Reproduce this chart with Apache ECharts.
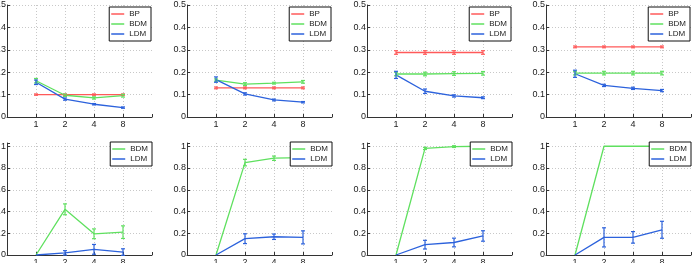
<!DOCTYPE html>
<html>
<head>
<meta charset="utf-8">
<script src="https://cdn.jsdelivr.net/npm/echarts@6/dist/echarts.min.js"></script>
<style>
html,body{margin:0;padding:0;background:#fff;}
#c{width:695px;height:263px;}
</style>
</head>
<body>
<div id="c"></div>
<script>
// ---- data ----
const xCats = ['1', '2', '4', '8'];
const topNames = ['BP', 'BDM', 'LDM'];
const bottomNames = ['BDM', 'LDM'];
const topTicks = [0, 0.1, 0.2, 0.3, 0.4, 0.5];
const bottomTicks = [0, 0.2, 0.4, 0.6, 0.8, 1];

// top row panels (values and half error bars)
const p1BP = [0.1, 0.1, 0.1, 0.1];        const p1BPe = [0.003, 0.003, 0.003, 0.003];
const p1BDM = [0.162, 0.097, 0.085, 0.095]; const p1BDMe = [0.01, 0.005, 0.005, 0.006];
const p1LDM = [0.155, 0.08, 0.057, 0.042];  const p1LDMe = [0.01, 0.005, 0.003, 0.003];

const p2BP = [0.13, 0.13, 0.13, 0.13];      const p2BPe = [0.004, 0.004, 0.004, 0.004];
const p2BDM = [0.165, 0.147, 0.151, 0.157]; const p2BDMe = [0.005, 0.006, 0.004, 0.006];
const p2LDM = [0.167, 0.103, 0.076, 0.066]; const p2LDMe = [0.012, 0.005, 0.004, 0.003];

const p3BP = [0.288, 0.288, 0.288, 0.288];  const p3BPe = [0.008, 0.008, 0.008, 0.008];
const p3BDM = [0.192, 0.192, 0.194, 0.195]; const p3BDMe = [0.008, 0.008, 0.008, 0.008];
const p3LDM = [0.188, 0.115, 0.094, 0.086]; const p3LDMe = [0.016, 0.01, 0.005, 0.004];

const p4BP = [0.313, 0.313, 0.313, 0.313];  const p4BPe = [0.004, 0.004, 0.004, 0.004];
const p4BDM = [0.196, 0.196, 0.196, 0.196]; const p4BDMe = [0.008, 0.008, 0.008, 0.008];
const p4LDM = [0.193, 0.141, 0.128, 0.118]; const p4LDMe = [0.016, 0.005, 0.005, 0.005];

// bottom row panels
const p5BDM = [0, 0.42, 0.195, 0.21];    const p5BDMe = [0, 0.05, 0.045, 0.058];
const p5LDM = [0, 0.02, 0.052, 0.027];   const p5LDMe = [0, 0.02, 0.045, 0.03];

const p6BDM = [0, 0.85, 0.89, 0.895];    const p6BDMe = [0, 0.03, 0.02, 0.02];
const p6LDM = [0, 0.15, 0.168, 0.162];   const p6LDMe = [0, 0.045, 0.025, 0.06];

const p7BDM = [0, 0.98, 0.997, 1.0];     const p7BDMe = [0, 0.01, 0.008, 0];
const p7LDM = [0, 0.095, 0.115, 0.175];  const p7LDMe = [0, 0.04, 0.04, 0.048];

const p8BDM = [0, 1, 1, 1];              const p8BDMe = [0, 0, 0, 0];
const p8LDM = [0, 0.162, 0.162, 0.232];  const p8LDMe = [0, 0.088, 0.053, 0.078];

const colors = { BP: '#ff5a5a', BDM: '#5fe05f', LDM: '#2c62dc' };

// ---- layout ----
const W = 695;
const gridLefts = [7, 187, 367, 546];
const gridW = 145;
const rowTop = [5, 143];
const rowH = [112, 112];
const font = "'Liberation Sans', Arial, sans-serif";

const panels = [
  { row: 0, names: topNames, vals: { BP: p1BP, BDM: p1BDM, LDM: p1LDM }, errs: { BP: p1BPe, BDM: p1BDMe, LDM: p1LDMe } },
  { row: 0, names: topNames, vals: { BP: p2BP, BDM: p2BDM, LDM: p2LDM }, errs: { BP: p2BPe, BDM: p2BDMe, LDM: p2LDMe } },
  { row: 0, names: topNames, vals: { BP: p3BP, BDM: p3BDM, LDM: p3LDM }, errs: { BP: p3BPe, BDM: p3BDMe, LDM: p3LDMe } },
  { row: 0, names: topNames, vals: { BP: p4BP, BDM: p4BDM, LDM: p4LDM }, errs: { BP: p4BPe, BDM: p4BDMe, LDM: p4LDMe } },
  { row: 1, names: bottomNames, vals: { BDM: p5BDM, LDM: p5LDM }, errs: { BDM: p5BDMe, LDM: p5LDMe } },
  { row: 1, names: bottomNames, vals: { BDM: p6BDM, LDM: p6LDM }, errs: { BDM: p6BDMe, LDM: p6LDMe } },
  { row: 1, names: bottomNames, vals: { BDM: p7BDM, LDM: p7LDM }, errs: { BDM: p7BDMe, LDM: p7LDMe } },
  { row: 1, names: bottomNames, vals: { BDM: p8BDM, LDM: p8LDM }, errs: { BDM: p8BDMe, LDM: p8LDMe } }
];

const grids = [], xAxes = [], yAxes = [], series = [], legends = [];
const axisCol = '#333';
const gridCol = '#c8c8c8';

panels.forEach((p, k) => {
  const col = k % 4;
  const left = gridLefts[col];
  const ticks = p.row === 0 ? topTicks : bottomTicks;
  const yMax = p.row === 0 ? 0.5 : 1.03;
  grids.push({ left: left, top: rowTop[p.row], width: gridW, height: rowH[p.row], containLabel: false, outerBoundsMode: 'none' });
  xAxes.push({
    type: 'value', gridIndex: k, min: 0, max: xCats.length + 1, interval: 1,
    axisLine: { show: true, lineStyle: { color: axisCol, width: 1 } },
    axisTick: { show: true, inside: true, length: 3, lineStyle: { color: axisCol } },
    axisLabel: {
      show: true, margin: 3, fontSize: 9, fontFamily: font, color: '#222',
      formatter: v => (v >= 1 && v <= xCats.length) ? xCats[v - 1] : ''
    },
    splitLine: { show: true, showMinLine: false, showMaxLine: false, lineStyle: { color: gridCol, type: [1, 2], width: 1 } }
  });
  yAxes.push({
    type: 'value', gridIndex: k, min: 0, max: yMax, interval: ticks[1] - ticks[0],
    axisLine: { show: true, lineStyle: { color: axisCol, width: 1 } },
    axisTick: { show: true, inside: true, length: 3, lineStyle: { color: axisCol } },
    axisLabel: {
      show: true, margin: 1, fontSize: 9, fontFamily: font, color: '#222',
      formatter: v => {
        const hit = ticks.find(t => Math.abs(t - v) < 1e-6);
        return hit === undefined ? '' : String(hit);
      }
    },
    splitLine: { show: true, showMinLine: false, showMaxLine: p.row === 0, lineStyle: { color: gridCol, type: [1, 2], width: 1 } }
  });
  p.names.forEach(name => {
    const vals = p.vals[name];
    const errs = p.errs[name];
    series.push({
      type: 'line', name: name, xAxisIndex: k, yAxisIndex: k,
      data: vals.map((v, i) => [i + 1, v]),
      symbol: 'none', silent: true, animation: false,
      lineStyle: { color: colors[name], width: 1.3 },
      itemStyle: { color: colors[name] }, z: 2
    });
    series.push({
      type: 'custom', name: name, xAxisIndex: k, yAxisIndex: k,
      data: vals.map((v, i) => [i + 1, v, errs[i]]),
      silent: true, animation: false, z: 3,
      itemStyle: { color: colors[name] },
      renderItem: (params, api) => {
        const x = api.value(0), v = api.value(1), e = api.value(2);
        if (!e) return null;
        const lo = api.coord([x, v - e]);
        const hi = api.coord([x, v + e]);
        const st = { stroke: colors[name], lineWidth: 1.2 };
        return {
          type: 'group', children: [
            { type: 'line', shape: { x1: lo[0], y1: lo[1], x2: hi[0], y2: hi[1] }, style: st },
            { type: 'line', shape: { x1: lo[0] - 2, y1: lo[1], x2: lo[0] + 2, y2: lo[1] }, style: st },
            { type: 'line', shape: { x1: hi[0] - 2, y1: hi[1], x2: hi[0] + 2, y2: hi[1] }, style: st }
          ]
        };
      }
    });
  });
  legends.push({
    data: p.names.map(n => ({ name: n, icon: 'rect', itemStyle: { color: colors[n] } })),
    orient: 'vertical',
    right: W - (left + gridW) + (p.row === 0 ? 1 : 0),
    top: p.row === 0 ? 7 : 142,
    itemWidth: 13, itemHeight: 1.5, itemGap: 0,
    padding: [2, 4, 2, 2],
    borderColor: '#111', borderWidth: 1, backgroundColor: '#fff',
    selectedMode: false,
    textStyle: { fontSize: 8, fontFamily: font, color: '#222', lineHeight: 10 },
    z: 10
  });
});

const chart = echarts.init(document.getElementById('c'), null, { renderer: 'canvas' });
chart.setOption({
  animation: false,
  backgroundColor: '#fff',
  grid: grids, xAxis: xAxes, yAxis: yAxes, legend: legends, series: series
});
</script>
</body>
</html>
